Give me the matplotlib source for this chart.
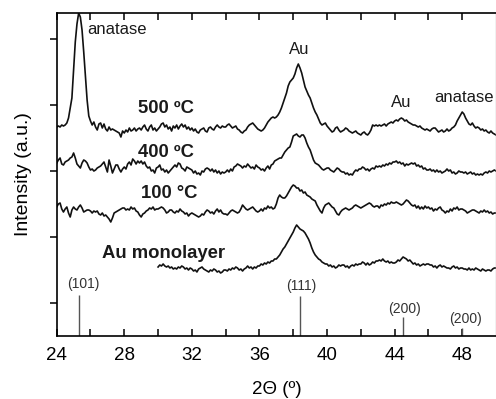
import numpy as np
import matplotlib
matplotlib.use("Agg")
import matplotlib.pyplot as plt

plt.rcParams['font.family'] = ['Liberation Sans', 'DejaVu Sans']

# 2-theta grid (degrees)
two_theta = np.round(np.arange(24.0, 50.0001, 0.1), 1)
two_theta_mono = np.round(np.arange(30.0, 50.0001, 0.1), 1)

# Intensities (a.u., curves already vertically offset)
i_500 = [
    209, 210, 209, 211, 210, 211, 213, 218, 228, 238,
    266, 294, 312, 323, 319, 306, 284, 260, 236, 220,
    215, 211, 214, 209, 206, 212, 213, 208, 212, 207,
    205, 209, 206, 207, 206, 205, 204, 203, 199, 205,
    203, 206, 204, 208, 205, 206, 208, 205, 207, 208,
    206, 209, 211, 207, 205, 209, 211, 206, 208, 205,
    207, 209, 212, 213, 209, 211, 207, 209, 205, 210,
    208, 211, 207, 210, 212, 209, 211, 207, 209, 206,
    208, 205, 207, 204, 203, 206, 207, 208, 205, 204,
    208, 209, 207, 206, 209, 211, 209, 208, 210, 209,
    209, 211, 212, 210, 208, 209, 210, 207, 206, 204,
    203, 205, 206, 209, 211, 212, 213, 211, 209, 207,
    206, 205, 206, 208, 211, 214, 216, 218, 219, 218,
    219, 221, 224, 228, 233, 238, 243, 250, 254, 256,
    258, 262, 268, 272, 268, 263, 256, 249, 245, 241,
    238, 233, 228, 224, 221, 217, 213, 211, 212, 213,
    210, 208, 206, 204, 205, 208, 209, 206, 204, 205,
    206, 208, 207, 205, 204, 203, 204, 205, 203, 202,
    201, 203, 204, 202, 201, 203, 206, 211, 210, 211,
    210, 211, 210, 211, 212, 210, 212, 213, 214, 213,
    215, 216, 215, 217, 218, 217, 215, 216, 214, 213,
    212, 211, 211, 210, 209, 210, 208, 207, 206, 207,
    206, 205, 207, 208, 208, 206, 204, 205, 206, 204,
    205, 207, 205, 206, 208, 209, 211, 215, 218, 221,
    224, 222, 218, 215, 212, 211, 213, 210, 208, 209,
    208, 206, 207, 205, 206, 204, 203, 205, 203, 202,
    201,
]

i_400 = [
    173, 176, 178, 172, 171, 174, 175, 176, 178, 179,
    183, 178, 172, 170, 168, 173, 176, 175, 173, 169,
    166, 167, 165, 166, 168, 169, 170, 172, 174, 169,
    164, 176, 170, 163, 167, 171, 171, 167, 164, 167,
    169, 167, 172, 174, 171, 177, 175, 172, 175, 173,
    175, 172, 174, 170, 168, 169, 165, 166, 163, 168,
    169, 171, 166, 167, 164, 166, 163, 165, 167, 169,
    171, 169, 173, 172, 168, 167, 165, 169, 168, 167,
    166, 163, 165, 162, 163, 161, 165, 164, 167, 168,
    167, 165, 167, 164, 166, 163, 165, 162, 164, 163,
    164, 166, 164, 167, 165, 169, 170, 172, 171, 170,
    168, 170, 169, 172, 170, 168, 169, 167, 171, 169,
    168, 166, 167, 165, 168, 170, 167, 171, 172, 175,
    176, 177, 178, 178, 181, 184, 186, 188, 189, 194,
    200, 201, 202, 200, 199, 201, 201, 198, 193, 189,
    186, 181, 176, 173, 172, 171, 169, 167, 166, 167,
    168, 168, 166, 165, 164, 166, 168, 167, 165, 164,
    164, 162, 163, 161, 162, 161, 164, 166, 165, 167,
    167, 169, 168, 166, 167, 165, 167, 168, 167, 170,
    169, 170, 169, 171, 170, 172, 171, 173, 172, 174,
    174, 175, 173, 174, 172, 173, 170, 172, 171, 172,
    173, 172, 173, 170, 171, 169, 170, 167, 168, 166,
    166, 167, 165, 166, 164, 166, 164, 165, 163, 164,
    165, 167, 165, 166, 163, 164, 162, 163, 165, 164,
    164, 163, 164, 162, 163, 164, 162, 163, 161, 162,
    161, 162, 161, 163, 164, 163, 165, 164, 165, 166,
    165,
]

i_100 = [
    129, 132, 133, 127, 124, 127, 129, 123, 119, 126,
    129, 127, 126, 129, 131, 128, 124, 125, 126, 126,
    125, 123, 125, 124, 125, 122, 121, 123, 120, 121,
    119, 117, 114, 118, 123, 124, 125, 126, 127, 128,
    128, 126, 127, 126, 129, 127, 128, 125, 124, 121,
    119, 122, 123, 125, 126, 128, 127, 129, 126, 127,
    127, 128, 129, 128, 126, 123, 124, 126, 126, 124,
    123, 125, 124, 127, 125, 124, 122, 123, 120, 122,
    123, 122, 121, 120, 119, 120, 122, 121, 124, 126,
    125, 123, 124, 122, 125, 127, 124, 126, 123, 122,
    122, 121, 123, 125, 126, 125, 124, 123, 124, 127,
    131, 129, 127, 126, 127, 128, 129, 127, 125, 124,
    125, 127, 125, 128, 127, 130, 128, 129, 127, 128,
    132, 138, 141, 139, 138, 138, 140, 143, 146, 149,
    151, 150, 148, 148, 145, 146, 143, 144, 141, 140,
    139, 137, 136, 135, 131, 128, 125, 123, 128, 131,
    132, 133, 131, 129, 128, 125, 122, 121, 124, 126,
    127, 128, 127, 126, 127, 128, 130, 131, 130, 129,
    128, 129, 130, 131, 132, 133, 132, 130, 129, 130,
    130, 128, 131, 130, 132, 131, 133, 132, 134, 133,
    133, 134, 133, 132, 131, 132, 134, 136, 135, 133,
    131, 130, 131, 128, 130, 127, 129, 127, 130, 128,
    129, 127, 128, 125, 127, 126, 128, 129, 126, 125,
    123, 125, 124, 127, 125, 128, 127, 129, 126, 127,
    127, 126, 125, 123, 124, 125, 126, 126, 125, 124,
    123, 125, 124, 126, 124, 125, 123, 124, 122, 123,
    123,
]

i_mono = [
    69, 71, 70, 72, 70, 69, 70, 68, 69, 67,
    68, 67, 69, 68, 70, 69, 67, 68, 66, 68,
    67, 65, 66, 64, 67, 68, 69, 67, 66, 65,
    64, 66, 65, 67, 66, 64, 65, 63, 64, 66,
    66, 65, 67, 66, 68, 67, 69, 68, 66, 67,
    65, 67, 68, 70, 68, 69, 67, 69, 68, 70,
    70, 72, 71, 73, 72, 74, 73, 75, 75, 77,
    77, 79, 81, 84, 87, 89, 92, 95, 98, 101,
    104, 108, 111, 109, 107, 106, 105, 103, 100, 97,
    93, 88, 84, 81, 79, 77, 76, 74, 73, 72,
    72, 70, 71, 69, 70, 68, 69, 71, 70, 71,
    71, 69, 70, 68, 70, 71, 70, 72, 71, 72,
    72, 74, 73, 71, 73, 71, 72, 74, 73, 75,
    75, 76, 75, 77, 75, 74, 75, 73, 74, 73,
    73, 74, 76, 75, 77, 79, 78, 77, 75, 76,
    74, 72, 73, 71, 72, 70, 71, 72, 71, 72,
    72, 71, 71, 69, 70, 68, 70, 71, 69, 70,
    69, 68, 68, 67, 69, 70, 68, 69, 67, 68,
    68, 67, 67, 66, 68, 66, 67, 66, 68, 67,
    66, 65, 67, 66, 65, 66, 66, 65, 67, 68,
    68,
]

# Reference reflections
ref_pos = [25.3, 38.4, 44.5, 48.0]
ref_height = [41, 40, 19, 8]
ref_labels = ['(101)', '(111)', '(200)', '(200)']
ref_label_x = [25.55, 38.45, 44.6, 48.2]
ref_label_y = [52, 50, 27, 17]

curve_labels = ['500 ºC', '400 ºC', '100 °C', 'Au monolayer']
curve_label_x = [30.49, 30.49, 30.64, 30.34]
curve_label_y = [228, 184, 143, 83]

peak_labels = ['anatase', 'Au', 'Au', 'anatase']
peak_label_x = [25.79, 38.33, 44.41, 48.13]
peak_label_y = [307, 287, 234, 239]
peak_label_ha = ['left', 'center', 'center', 'center']

fig = plt.figure(figsize=(4.96, 3.99), dpi=100)
ax = fig.add_axes([0.1143, 0.1579, 0.8857, 0.8095])

lw = 1.2
ax.plot(two_theta, i_500, color='#111111', lw=lw)
ax.plot(two_theta, i_400, color='#111111', lw=lw)
ax.plot(two_theta, i_100, color='#111111', lw=lw)
ax.plot(two_theta_mono, i_mono, color='#111111', lw=lw)

ax.vlines(ref_pos, 0, ref_height, color='#555555', lw=1.0)
for x, y, t in zip(ref_label_x, ref_label_y, ref_labels):
    ax.text(x, y, t, fontsize=10, ha='center', va='center', color='#333333')

for x, y, t in zip(curve_label_x, curve_label_y, curve_labels):
    ax.text(x, y, t, fontsize=13.3, fontweight='bold', ha='center', va='center',
            color='#1a1a1a')

for x, y, t, ha in zip(peak_label_x, peak_label_y, peak_labels, peak_label_ha):
    ax.text(x, y, t, fontsize=12, ha=ha, va='center', color='#1a1a1a', clip_on=False)

ax.set_xlim(24, 50)
ax.set_ylim(0, 323)

ax.set_xticks([24, 28, 32, 36, 40, 44, 48])
ax.set_xticks([26, 30, 34, 38, 42, 46], minor=True)
ax.tick_params(axis='x', which='both', direction='in', top=True, bottom=True,
               length=5, width=1.1, labelsize=13.5, pad=8)
ax.set_yticks([33, 99, 165, 231, 297])
ax.set_yticklabels([])
ax.tick_params(axis='y', which='both', direction='out', left=True, right=False,
               length=5, width=1.1)

for s in ['left', 'bottom', 'top']:
    ax.spines[s].set_linewidth(1.2)
ax.spines['right'].set_color('#bbbbbb')
ax.spines['right'].set_linewidth(1.0)

ax.set_xlabel('2Θ (º)', fontsize=13.5, labelpad=12)
ax.set_ylabel('Intensity (a.u.)', fontsize=14, labelpad=9)

fig.savefig('out.png', dpi=100)
